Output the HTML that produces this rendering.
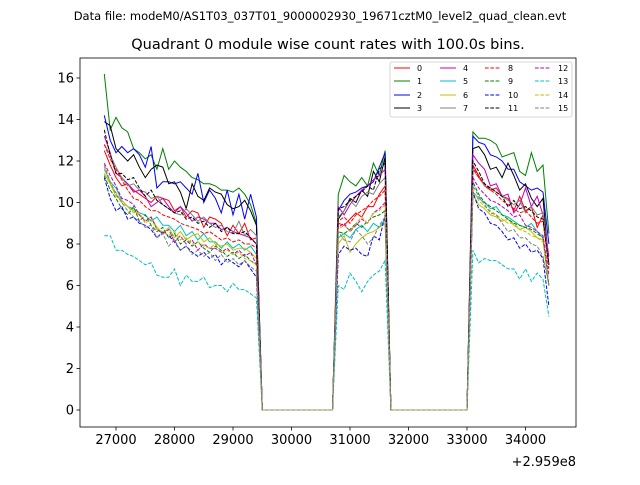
<!DOCTYPE html>
<html><head><meta charset="utf-8"><style>
body{margin:0;background:#fff;width:640px;height:480px;overflow:hidden;font-family:"Liberation Sans","DejaVu Sans",sans-serif}
svg text{font-family:"DejaVu Sans","Liberation Sans",sans-serif}
</style></head><body>
<svg id="chart" width="640" height="480" xmlns="http://www.w3.org/2000/svg">
<rect width="640" height="480" fill="#fff"/>
<text x="320" y="20" font-size="11.5" text-anchor="middle">Data file: modeM0/AS1T03_037T01_9000002930_19671cztM0_level2_quad_clean.evt</text>
<text x="328" y="49" font-size="14.5" text-anchor="middle">Quadrant 0 module wise count rates with 100.0s bins.</text>
<g id="plot"></g>
<g id="axes"></g>
<text x="576" y="466" font-size="13" text-anchor="end">+2.959e8</text>
</svg>
<script>
const seg1Start = 26800, binWidth = 100;
const gapZeros1 = [0,0,0,0,0,0,0,0,0,0,0,0,0];
const gapZeros2 = [0,0,0,0,0,0,0,0,0,0,0,0,0,0];
const xTicks = [27000,28000,29000,30000,31000,32000,33000,34000];
const yTicks = [0,2,4,6,8,10,12,14,16];
const seriesNames = ["0","1","2","3","4","5","6","7","8","9","10","11","12","13","14","15"];
const seriesColors = ["#ff0000","#008000","#0000ff","#000000","#bf00bf","#00bfbf","#bfbf00","#808080"];
const s0seg1=[12.5,11.8,11.2,10.8,10.9,10.6,10.4,10.2,10.0,10.3,10.2,10.1,9.6,9.8,9.3,9.6,9.5,8.8,9.3,9.2,9.0,8.4,8.9,8.5,9.0,8.2,8.3], s0seg2=[9.0,8.9,9.2,9.5,9.3,9.8,9.8,10.4,10.8], s0seg3=[11.8,11.3,10.8,10.6,10.7,10.3,10.2,9.6,10.3,9.6,9.8,8.8,9.4,7.0];
const s1seg1=[16.2,13.5,14.1,13.6,13.4,12.6,12.4,12.1,12.3,11.6,12.6,11.6,12.0,11.7,11.5,11.2,11.1,10.9,10.9,10.8,10.6,10.6,10.5,10.7,10.4,9.9,9.0], s1seg2=[10.4,11.3,11.0,10.8,11.2,10.8,11.9,11.3,12.5], s1seg3=[13.4,13.1,13.1,13.0,12.8,12.2,12.3,12.4,11.5,11.3,12.4,11.5,11.8,8.5];
const s2seg1=[14.2,13.0,12.4,12.7,12.4,12.6,12.3,11.7,12.7,10.7,11.0,11.0,10.9,11.0,10.7,10.4,11.4,10.0,10.6,10.2,9.5,10.6,9.4,10.4,9.2,10.4,9.3], s2seg2=[9.6,10.1,10.4,10.5,10.7,10.8,11.0,11.7,12.4], s2seg3=[13.2,12.9,12.8,12.3,12.2,12.0,11.6,11.6,11.0,10.8,10.6,10.7,10.5,8.0];
const s3seg1=[13.9,13.7,12.6,12.3,12.0,12.3,11.7,11.2,11.6,11.8,11.7,10.9,11.0,10.5,9.7,10.9,10.3,10.1,10.7,10.5,10.4,9.9,9.7,9.8,10.1,9.6,8.9], s3seg2=[9.2,9.6,10.2,10.0,10.6,10.3,11.5,11.0,12.2], s3seg3=[12.6,12.7,12.3,11.6,11.7,11.2,11.9,11.3,10.6,10.9,10.2,9.8,10.2,7.0];
const s4seg1=[13.2,12.4,11.4,11.2,10.9,10.5,10.6,10.3,9.8,10.0,10.2,9.8,9.5,9.8,9.5,9.1,9.3,9.2,9.0,9.0,8.7,8.8,8.6,8.5,8.4,8.3,8.0], s4seg2=[9.8,9.4,9.9,10.3,10.6,10.8,11.1,11.3,11.6], s4seg3=[12.3,11.9,11.6,10.8,10.9,10.3,10.4,9.5,9.9,10.7,9.8,10.3,9.4,7.4];
const s5seg1=[11.6,11.0,10.7,10.1,9.8,9.7,9.5,9.4,9.1,9.3,8.9,8.9,8.6,8.9,8.4,8.6,8.2,8.5,8.1,8.1,7.8,8.1,7.8,8.0,7.7,7.9,7.5], s5seg2=[8.3,8.5,8.3,8.7,8.9,8.6,9.0,8.8,9.2], s5seg3=[10.5,10.2,10.0,9.7,9.8,9.4,9.3,9.1,8.9,8.8,9.0,8.6,8.3,6.0];
const s6seg1=[11.4,10.9,10.3,10.1,9.8,9.6,9.4,9.1,9.3,8.8,8.5,8.8,8.3,8.6,8.2,8.4,8.5,8.1,8.3,8.0,7.9,8.0,7.7,7.8,7.8,7.6,7.3], s6seg2=[8.0,8.4,7.6,8.0,8.3,8.5,8.6,8.8,9.0], s6seg3=[10.4,9.9,9.7,9.4,9.3,9.1,9.2,8.9,8.7,8.8,8.6,8.3,8.2,6.0];
const s7seg1=[12.8,12.3,11.7,11.2,10.8,10.9,10.6,10.5,10.2,10.3,9.9,9.7,9.5,9.4,9.7,9.4,9.1,9.3,9.0,8.8,8.9,8.6,8.5,9.1,8.4,8.7,8.4], s7seg2=[9.3,9.6,10.1,9.8,10.3,10.5,10.4,10.9,11.2], s7seg3=[11.6,11.2,10.8,10.7,10.5,10.3,10.1,9.9,10.1,9.5,9.8,9.4,9.5,7.0];
const s8seg1=[12.8,12.1,11.6,11.1,10.6,10.2,10.1,9.8,9.6,9.6,9.4,9.3,9.2,9.0,8.9,8.8,8.7,8.5,8.6,8.4,8.2,8.3,8.1,8.2,8.0,8.0,7.8], s8seg2=[9.1,9.3,9.0,9.4,9.6,9.8,10.1,10.3,10.6], s8seg3=[11.7,11.2,10.9,10.6,10.4,10.1,9.9,9.7,9.5,9.6,9.3,9.0,9.1,6.8];
const s9seg1=[11.3,10.6,10.2,9.7,9.4,9.8,9.1,9.4,8.9,8.6,8.8,8.3,8.5,8.0,8.2,7.9,8.1,7.8,7.6,7.9,7.7,7.4,7.6,7.3,7.5,7.2,7.0], s9seg2=[8.6,8.5,8.7,9.0,8.8,9.1,9.3,9.4,9.6], s9seg3=[11.0,10.4,10.0,9.8,9.6,9.4,9.2,9.0,8.9,8.8,8.7,8.5,8.3,6.0];
const s10seg1=[11.2,10.2,9.6,9.8,9.2,9.3,9.0,8.9,8.7,8.3,8.6,8.4,8.1,7.7,7.9,7.6,7.4,7.6,7.3,7.5,7.0,7.3,7.1,6.9,7.2,6.8,6.4], s10seg2=[7.5,7.9,7.7,7.8,7.5,7.4,8.4,8.2,9.4], s10seg3=[10.5,9.7,9.5,9.0,8.9,8.6,8.2,8.3,7.8,8.0,7.6,7.7,7.3,5.0];
const s11seg1=[13.5,12.3,11.4,11.4,11.1,11.2,10.7,10.3,10.6,10.1,9.9,9.7,9.5,9.6,9.2,9.3,9.0,9.1,8.8,9.0,8.6,8.8,8.5,8.5,8.6,8.3,8.0], s11seg2=[9.7,9.8,10.1,10.3,10.5,10.8,10.6,11.6,11.9], s11seg3=[12.0,11.5,10.9,10.7,10.5,10.3,9.8,10.1,9.7,9.8,9.6,9.3,9.2,7.0];
const s12seg1=[11.9,11.3,10.8,10.2,10.1,9.9,9.4,9.1,9.3,8.7,8.5,8.7,8.1,8.4,8.0,8.2,7.7,8.0,7.8,7.8,7.6,7.8,7.5,7.7,7.4,7.6,7.0], s12seg2=[8.8,9.0,8.6,8.9,9.2,9.0,9.5,9.7,10.0], s12seg3=[11.2,10.7,10.4,10.1,10.0,9.8,9.6,9.3,9.4,8.9,8.8,8.6,8.4,6.5];
const s13seg1=[8.4,8.4,7.7,7.7,7.5,7.4,7.2,7.0,7.1,6.5,6.4,6.4,6.8,6.0,6.5,6.2,6.2,6.4,5.9,6.0,6.0,5.7,6.1,5.8,5.8,5.6,5.4], s13seg2=[6.0,5.8,6.6,6.2,5.7,6.2,6.5,6.7,7.2], s13seg3=[7.7,7.1,7.3,7.2,7.2,7.0,6.8,6.8,6.3,6.8,6.2,6.6,6.3,4.5];
const s14seg1=[11.7,10.9,10.5,10.0,9.8,9.5,9.5,9.0,9.2,8.7,8.6,8.4,8.6,8.2,8.3,8.0,8.1,7.9,7.8,8.0,7.6,7.7,7.5,7.6,7.3,7.2,7.0], s14seg2=[8.7,8.9,8.6,9.0,9.3,9.0,9.5,9.6,9.9], s14seg3=[10.6,10.1,9.8,9.6,9.4,9.2,9.0,9.0,8.7,8.6,8.4,8.3,8.1,6.0];
const s15seg1=[11.8,11.0,10.4,10.0,9.6,9.3,9.1,8.8,8.9,8.3,8.5,7.9,8.2,7.7,7.9,7.5,7.7,7.4,7.6,7.2,7.5,7.1,7.3,7.0,7.2,6.9,6.7], s15seg2=[8.6,8.2,8.1,8.7,8.4,8.0,8.3,8.9,9.3], s15seg3=[10.8,10.3,9.9,9.5,9.4,9.0,8.6,8.7,8.3,8.3,8.0,7.9,7.4,6.0];

const seg1List=[s0seg1,s1seg1,s2seg1,s3seg1,s4seg1,s5seg1,s6seg1,s7seg1,s8seg1,s9seg1,s10seg1,s11seg1,s12seg1,s13seg1,s14seg1,s15seg1];
const seg2List=[s0seg2,s1seg2,s2seg2,s3seg2,s4seg2,s5seg2,s6seg2,s7seg2,s8seg2,s9seg2,s10seg2,s11seg2,s12seg2,s13seg2,s14seg2,s15seg2];
const seg3List=[s0seg3,s1seg3,s2seg3,s3seg3,s4seg3,s5seg3,s6seg3,s7seg3,s8seg3,s9seg3,s10seg3,s11seg3,s12seg3,s13seg3,s14seg3,s15seg3];

const NS="http://www.w3.org/2000/svg";
const AX={l:80,t:58,r:576,b:427};
function xs(t){return 116+(t-27000)*0.0585;}
function ys(v){return 410-v*20.75;}
function mk(tag,attrs,parent){const e=document.createElementNS(NS,tag);for(const k in attrs)e.setAttribute(k,attrs[k]);parent.appendChild(e);return e;}
const plot=document.getElementById('plot'), axes=document.getElementById('axes');

for(let s=0;s<16;s++){
  const vals=seg1List[s].concat(gapZeros1,seg2List[s],gapZeros2,seg3List[s]);
  const pts=vals.map((v,i)=>xs(seg1Start+i*binWidth).toFixed(1)+','+ys(v).toFixed(1)).join(' ');
  const attrs={points:pts,fill:'none',stroke:seriesColors[s%8],'stroke-width':1};
  if(s>=8) attrs['stroke-dasharray']='3.7,1.6';
  const pl=mk('polyline',attrs,plot);
  
  
}
const frame=mk('rect',{x:AX.l,y:AX.t,width:AX.r-AX.l,height:AX.b-AX.t,fill:'none',stroke:'#000','stroke-width':0.8},axes);


xTicks.forEach(t=>{
  const x=xs(t);
  mk('line',{x1:x,x2:x,y1:AX.b,y2:AX.b+3.5,stroke:'#000','stroke-width':0.8},axes);
  const tx=mk('text',{x:x,y:AX.b+17,'font-size':13,'text-anchor':'middle'},axes);
  tx.textContent=t;
  
  
});
yTicks.forEach(v=>{
  const y=ys(v);
  mk('line',{x1:AX.l-3.5,x2:AX.l,y1:y,y2:y,stroke:'#000','stroke-width':0.8},axes);
  const tx=mk('text',{x:AX.l-6,y:y+4.5,'font-size':13,'text-anchor':'end'},axes);
  tx.textContent=v;
  
  
});
const lg=mk('g',{},axes);


mk('rect',{x:390,y:62,width:182,height:55,rx:2,fill:'#fff',stroke:'#ccc','stroke-width':0.8},lg);
const colX=[394,440,485,535], rowY=[68,81,95,108];
for(let s=0;s<16;s++){
  const c=Math.floor(s/4), r=s%4;
  const la={x1:colX[c],x2:colX[c]+16,y1:rowY[r],y2:rowY[r],stroke:seriesColors[s%8],'stroke-width':1};
  if(s>=8) la['stroke-dasharray']='3.7,1.6';
  mk('line',la,lg);
  const tx=mk('text',{x:colX[c]+23,y:rowY[r]+3,'font-size':8},lg);
  tx.textContent=seriesNames[s];
  
  
}
</script>
</body></html>
